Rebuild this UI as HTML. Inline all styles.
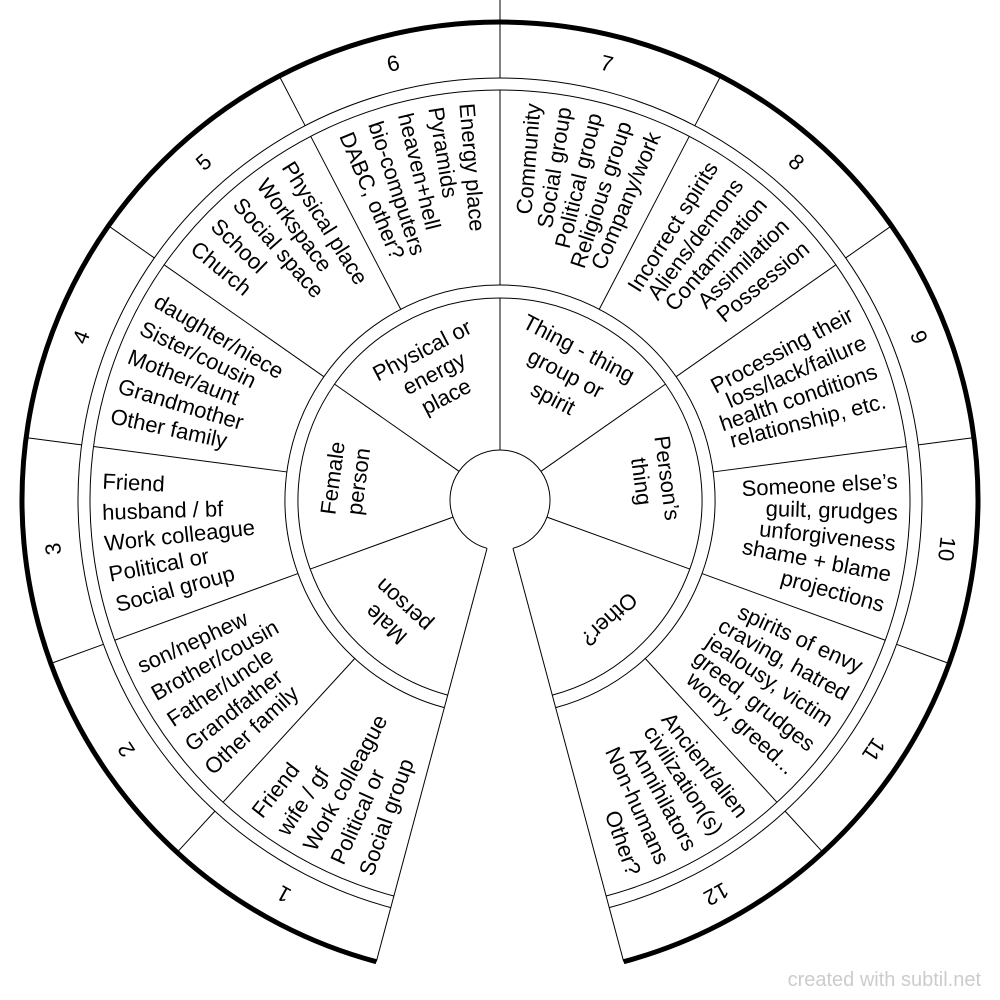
<!DOCTYPE html>
<html><head><meta charset="utf-8"><style>
html,body{margin:0;padding:0;background:#fff}
svg{display:block}
text{font-family:"Liberation Sans",Arial,sans-serif;fill:#000}
.t{font-size:22px}
.n{font-size:22px}
</style></head><body>
<svg width="1000" height="1000" viewBox="0 0 1000 1000" xmlns="http://www.w3.org/2000/svg">
<g fill="none" stroke="#000" stroke-width="1">
<path d="M390.78,907.62 A422,422 0 1 1 609.22,907.62"/>
<path d="M393.88,896.03 A410,410 0 1 1 606.12,896.03"/>
<path d="M444.35,707.67 A215,215 0 1 1 555.65,707.67"/>
<path d="M447.72,695.12 A202,202 0 1 1 552.28,695.12"/>
<path d="M487.06,548.30 A50,50 0 1 1 512.94,548.30"/>
<line x1="487.06" y1="548.30" x2="376.28" y2="961.71"/>
<line x1="512.94" y1="548.30" x2="623.72" y2="961.71"/>
<line x1="500" y1="0" x2="500" y2="22"/>
<g><line x1="500" y1="450" x2="500" y2="298"/></g>
<g transform="rotate(55 500 500)"><line x1="500" y1="450" x2="500" y2="298"/></g>
<g transform="rotate(110 500 500)"><line x1="500" y1="450" x2="500" y2="298"/></g>
<g transform="rotate(-55 500 500)"><line x1="500" y1="450" x2="500" y2="298"/></g>
<g transform="rotate(-110 500 500)"><line x1="500" y1="450" x2="500" y2="298"/></g>
<g id="b0"><line x1="500" y1="285" x2="500" y2="90"/><line x1="500" y1="78" x2="500" y2="22"/></g>
<use href="#b0" transform="rotate(27.5 500 500)"/>
<use href="#b0" transform="rotate(55 500 500)"/>
<use href="#b0" transform="rotate(82.5 500 500)"/>
<use href="#b0" transform="rotate(110 500 500)"/>
<use href="#b0" transform="rotate(137.5 500 500)"/>
<use href="#b0" transform="rotate(-27.5 500 500)"/>
<use href="#b0" transform="rotate(-55 500 500)"/>
<use href="#b0" transform="rotate(-82.5 500 500)"/>
<use href="#b0" transform="rotate(-110 500 500)"/>
<use href="#b0" transform="rotate(-137.5 500 500)"/>
</g>
<path d="M376.28,961.71 A478,478 0 1 1 623.72,961.71" fill="none" stroke="#000" stroke-width="5"/>

<g class="n" text-anchor="middle">
<text transform="rotate(-151.25 500 500)" x="500" y="58">1</text>
<text transform="rotate(-123.75 500 500)" x="500" y="58">2</text>
<text transform="rotate(-96.25 500 500)" x="500" y="58">3</text>
<text transform="rotate(-68.75 500 500)" x="500" y="58">4</text>
<text transform="rotate(-41.25 500 500)" x="500" y="58">5</text>
<text transform="rotate(-13.75 500 500)" x="500" y="58">6</text>
<text transform="rotate(13.75 500 500)" x="500" y="58">7</text>
<text transform="rotate(41.25 500 500)" x="500" y="58">8</text>
<text transform="rotate(68.75 500 500)" x="500" y="58">9</text>
<text transform="rotate(96.25 500 500)" x="500" y="58">10</text>
<text transform="rotate(123.75 500 500)" x="500" y="58">11</text>
<text transform="rotate(151.25 500 500)" x="500" y="58">12</text>
</g>

<g class="t" text-anchor="start">
<text transform="rotate(-142.25 500 500) translate(500,102) rotate(90)" dy="0.35em">Friend</text>
<text transform="rotate(-146.75 500 500) translate(500,102) rotate(90)" dy="0.35em">wife / gf</text>
<text transform="rotate(-151.25 500 500) translate(500,102) rotate(90)" dy="0.35em">Work colleague</text>
<text transform="rotate(-155.75 500 500) translate(500,102) rotate(90)" dy="0.35em">Political or</text>
<text transform="rotate(-160.25 500 500) translate(500,102) rotate(90)" dy="0.35em">Social group</text>

<text transform="rotate(-114.75 500 500) translate(500,102) rotate(90)" dy="0.35em">son/nephew</text>
<text transform="rotate(-119.25 500 500) translate(500,102) rotate(90)" dy="0.35em">Brother/cousin</text>
<text transform="rotate(-123.75 500 500) translate(500,102) rotate(90)" dy="0.35em">Father/uncle</text>
<text transform="rotate(-128.25 500 500) translate(500,102) rotate(90)" dy="0.35em">Grandfather</text>
<text transform="rotate(-132.75 500 500) translate(500,102) rotate(90)" dy="0.35em">Other family</text>

<text transform="rotate(-87.25 500 500) translate(500,102) rotate(90)" dy="0.35em">Friend</text>
<text transform="rotate(-91.75 500 500) translate(500,102) rotate(90)" dy="0.35em">husband / bf</text>
<text transform="rotate(-96.25 500 500) translate(500,102) rotate(90)" dy="0.35em">Work colleague</text>
<text transform="rotate(-100.75 500 500) translate(500,102) rotate(90)" dy="0.35em">Political or</text>
<text transform="rotate(-105.25 500 500) translate(500,102) rotate(90)" dy="0.35em">Social group</text>

<text transform="rotate(-59.75 500 500) translate(500,102) rotate(90)" dy="0.35em">daughter/niece</text>
<text transform="rotate(-64.25 500 500) translate(500,102) rotate(90)" dy="0.35em">Sister/cousin</text>
<text transform="rotate(-68.75 500 500) translate(500,102) rotate(90)" dy="0.35em">Mother/aunt</text>
<text transform="rotate(-73.25 500 500) translate(500,102) rotate(90)" dy="0.35em">Grandmother</text>
<text transform="rotate(-77.75 500 500) translate(500,102) rotate(90)" dy="0.35em">Other family</text>

<text transform="rotate(-32.25 500 500) translate(500,102) rotate(90)" dy="0.35em">Physical place</text>
<text transform="rotate(-36.75 500 500) translate(500,102) rotate(90)" dy="0.35em">Workspace</text>
<text transform="rotate(-41.25 500 500) translate(500,102) rotate(90)" dy="0.35em">Social space</text>
<text transform="rotate(-45.75 500 500) translate(500,102) rotate(90)" dy="0.35em">School</text>
<text transform="rotate(-50.25 500 500) translate(500,102) rotate(90)" dy="0.35em">Church</text>

<text transform="rotate(-4.75 500 500) translate(500,102) rotate(90)" dy="0.35em">Energy place</text>
<text transform="rotate(-9.25 500 500) translate(500,102) rotate(90)" dy="0.35em">Pyramids</text>
<text transform="rotate(-13.75 500 500) translate(500,102) rotate(90)" dy="0.35em">heaven+hell</text>
<text transform="rotate(-18.25 500 500) translate(500,102) rotate(90)" dy="0.35em">bio-computers</text>
<text transform="rotate(-22.75 500 500) translate(500,102) rotate(90)" dy="0.35em">DABC, other?</text>
</g>

<g class="t" text-anchor="end">
<text transform="rotate(4.75 500 500) translate(500,102) rotate(-90)" dy="0.35em">Community</text>
<text transform="rotate(9.25 500 500) translate(500,102) rotate(-90)" dy="0.35em">Social group</text>
<text transform="rotate(13.75 500 500) translate(500,102) rotate(-90)" dy="0.35em">Political group</text>
<text transform="rotate(18.25 500 500) translate(500,102) rotate(-90)" dy="0.35em">Religious group</text>
<text transform="rotate(22.75 500 500) translate(500,102) rotate(-90)" dy="0.35em">Company/work</text>

<text transform="rotate(32.25 500 500) translate(500,102) rotate(-90)" dy="0.35em">Incorrect spirits</text>
<text transform="rotate(36.75 500 500) translate(500,102) rotate(-90)" dy="0.35em">Aliens/demons</text>
<text transform="rotate(41.25 500 500) translate(500,102) rotate(-90)" dy="0.35em">Contamination</text>
<text transform="rotate(45.75 500 500) translate(500,102) rotate(-90)" dy="0.35em">Assimilation</text>
<text transform="rotate(50.25 500 500) translate(500,102) rotate(-90)" dy="0.35em">Possession</text>

<text transform="rotate(62 500 500) translate(500,102) rotate(-90)" dy="0.35em">Processing their</text>
<text transform="rotate(66.5 500 500) translate(500,102) rotate(-90)" dy="0.35em">loss/lack/failure</text>
<text transform="rotate(71 500 500) translate(500,102) rotate(-90)" dy="0.35em">health conditions</text>
<text transform="rotate(75.5 500 500) translate(500,102) rotate(-90)" dy="0.35em">relationship, etc.</text>

<text transform="rotate(87.25 500 500) translate(500,102) rotate(-90)" dy="0.35em">Someone else’s</text>
<text transform="rotate(91.75 500 500) translate(500,102) rotate(-90)" dy="0.35em">guilt, grudges</text>
<text transform="rotate(96.25 500 500) translate(500,102) rotate(-90)" dy="0.35em">unforgiveness</text>
<text transform="rotate(100.75 500 500) translate(500,102) rotate(-90)" dy="0.35em">shame + blame</text>
<text transform="rotate(105.25 500 500) translate(500,102) rotate(-90)" dy="0.35em">projections</text>

<text transform="rotate(114.75 500 500) translate(500,102) rotate(-90)" dy="0.35em">spirits of envy</text>
<text transform="rotate(119.25 500 500) translate(500,102) rotate(-90)" dy="0.35em">craving, hatred</text>
<text transform="rotate(123.75 500 500) translate(500,102) rotate(-90)" dy="0.35em">jealousy, victim</text>
<text transform="rotate(128.25 500 500) translate(500,102) rotate(-90)" dy="0.35em">greed, grudges</text>
<text transform="rotate(132.75 500 500) translate(500,102) rotate(-90)" dy="0.35em">worry, greed...</text>

<text transform="rotate(142.25 500 500) translate(500,102) rotate(-90)" dy="0.35em">Ancient/alien</text>
<text transform="rotate(146.75 500 500) translate(500,102) rotate(-90)" dy="0.35em">civilization(s)</text>
<text transform="rotate(151.25 500 500) translate(500,102) rotate(-90)" dy="0.35em">Annihilators</text>
<text transform="rotate(155.75 500 500) translate(500,102) rotate(-90)" dy="0.35em">Non-humans</text>
<text transform="rotate(160.25 500 500) translate(500,102) rotate(-90)" dy="0.35em">Other?</text>
</g>

<g class="t" text-anchor="middle">
<g transform="rotate(-27.5 500 500)">
<text x="500" y="331" dy="0.35em">Physical or</text>
<text x="500" y="357" dy="0.35em">energy</text>
<text x="500" y="383" dy="0.35em">place</text>
</g>
<g transform="rotate(-82.5 500 500)">
<text x="500" y="331" dy="0.35em">Female</text>
<text x="500" y="357" dy="0.35em">person</text>
</g>
<g transform="rotate(-137.5 500 500)">
<text x="500" y="331" dy="0.35em">Male</text>
<text x="500" y="357" dy="0.35em">person</text>
</g>
<g transform="rotate(27.5 500 500)">
<text x="500" y="329" dy="0.35em">Thing - thing</text>
<text x="500" y="357" dy="0.35em">group or</text>
<text x="500" y="385" dy="0.35em">spirit</text>
</g>
<g transform="rotate(82.5 500 500)">
<text x="500" y="331" dy="0.35em">Person’s</text>
<text x="500" y="357" dy="0.35em">thing</text>
</g>
<g transform="rotate(137.5 500 500)">
<text x="500" y="338" dy="0.35em">Other?</text>
</g>
</g>

<text x="981" y="986" text-anchor="end" style="font-size:20px;fill:#cccccc">created with subtil.net</text>
</svg>
</body></html>
